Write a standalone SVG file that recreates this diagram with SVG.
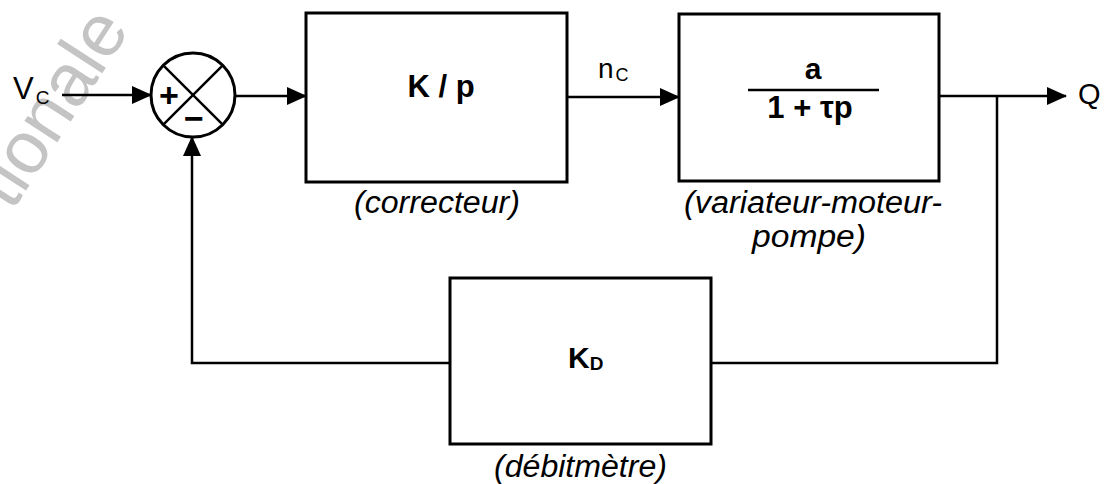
<svg xmlns="http://www.w3.org/2000/svg" width="1108" height="484" viewBox="0 0 1108 484">
<style>
.box{fill:#fff;stroke:#000;stroke-width:3}
.ln{fill:none;stroke:#000;stroke-width:2.5}
.t{font-family:"Liberation Sans",Arial,sans-serif;fill:#000}
.b{font-weight:bold}
.i{font-style:italic}
.wm{font-family:"Liberation Sans",Arial,sans-serif;fill:#c4c4c4}
</style>
<defs>
<marker id="ah" markerUnits="userSpaceOnUse" markerWidth="20" markerHeight="18" refX="19" refY="9" orient="auto">
<path d="M0,0 L20,9 L0,18 z" fill="#000"/>
</marker>
</defs>
<rect width="1108" height="484" fill="#fff"/>
<text class="wm" font-size="74" transform="translate(12,212) rotate(-57)">tionale</text>

<g id="connectors">
<line class="ln" x1="62" y1="95" x2="151" y2="95" marker-end="url(#ah)"/>
<line class="ln" x1="235" y1="96" x2="306" y2="96" marker-end="url(#ah)"/>
<line class="ln" x1="567" y1="97" x2="679" y2="97" marker-end="url(#ah)"/>
<line class="ln" x1="939" y1="96" x2="1066" y2="96" marker-end="url(#ah)"/>
<polyline class="ln" points="997,96 997,363 711,363"/>
<polyline class="ln" points="450,363 192,363 192,137" marker-end="url(#ah)"/>
</g>

<g id="sum">
<circle cx="193" cy="95" r="42" fill="#fff" stroke="#000" stroke-width="3"/>
<line class="ln" x1="163.3" y1="65.3" x2="222.7" y2="124.7"/>
<line class="ln" x1="222.7" y1="65.3" x2="163.3" y2="124.7"/>
<text class="t b" x="169" y="107" font-size="34" text-anchor="middle">+</text>
<text class="t b" x="194" y="130" font-size="34" text-anchor="middle">−</text>
</g>

<g id="input">
<text class="t" x="13" y="99" font-size="31">V<tspan font-size="19" dx="2" dy="5">C</tspan></text>
</g>

<g id="correcteur">
<rect class="box" x="306" y="13" width="261" height="169"/>
<text class="t b" x="441" y="97" font-size="31" text-anchor="middle">K / p</text>
<text class="t i" x="354" y="213" font-size="31" textLength="166" lengthAdjust="spacingAndGlyphs">(correcteur)</text>
</g>

<g id="nc">
<text class="t" x="598" y="78" font-size="28">n<tspan font-size="18" dx="2" dy="3">C</tspan></text>
</g>

<g id="variateur">
<rect class="box" x="679" y="14" width="260" height="167"/>
<text class="t b" x="813" y="79" font-size="30" text-anchor="middle">a</text>
<line x1="748" y1="90" x2="879" y2="90" stroke="#000" stroke-width="2.5"/>
<text class="t b" x="810" y="118" font-size="31" text-anchor="middle">1 + τp</text>
<text class="t i" x="684" y="213" font-size="31" textLength="258" lengthAdjust="spacingAndGlyphs">(variateur-moteur-</text>
<text class="t i" x="752" y="247" font-size="31" textLength="114" lengthAdjust="spacingAndGlyphs">pompe)</text>
</g>

<g id="output">
<text class="t" x="1078" y="104" font-size="29">Q</text>
</g>

<g id="debitmetre">
<rect class="box" x="450" y="278" width="261" height="166"/>
<text class="t b" x="568" y="368" font-size="30">K<tspan font-size="19" dy="2">D</tspan></text>
<text class="t i" x="494" y="477" font-size="31" textLength="173" lengthAdjust="spacingAndGlyphs">(débitmètre)</text>
</g>
</svg>
